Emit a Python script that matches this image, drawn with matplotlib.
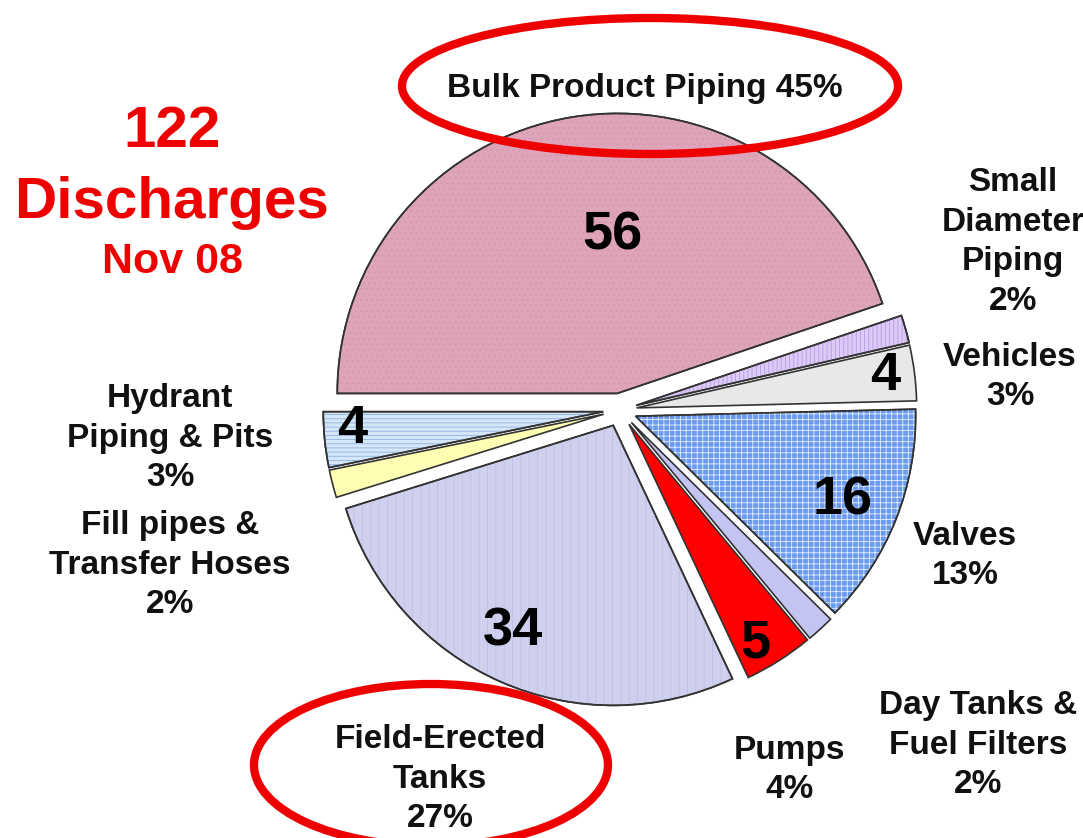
import numpy as np
import matplotlib.pyplot as plt
from matplotlib.patches import Wedge, Ellipse

plt.rcParams['font.family'] = ['Liberation Sans', 'DejaVu Sans']
plt.rcParams['hatch.linewidth'] = 0.6

categories = ["Bulk Product Piping", "Small Diameter Piping", "Vehicles", "Valves",
              "Day Tanks & Fuel Filters", "Pumps", "Field-Erected Tanks",
              "Fill pipes & Transfer Hoses", "Hydrant Piping & Pits"]
counts = [56, 2, 4, 16, 2, 5, 34, 2, 4]
percents = ["45%", "2%", "3%", "13%", "2%", "4%", "27%", "2%", "3%"]
show_count = [True, False, True, True, False, True, True, False, True]

colors = ["#DEA4B9", "#DCCBF6", "#E8E8E8", "#6A9BEF", "#C4C4F2",
          "#FF0000", "#CFCFEE", "#FFFFB4", "#D4E6F8"]
hatches = ["...", "||||", None, "+++", None, None, "||", None, "----"]
hatch_colors = ["#D497AD", "#B79BE8", None, "#E6EEFF", None, None, "#C0C0E8", None, "#8FB3DD"]

# pixel geometry of the reference
S = 280.0
CX, CY = 620.0, 410.0


def P(x, y):
    return (x - CX) / S, (CY - y) / S


fig = plt.figure(figsize=(10.83, 8.38), dpi=100)
ax = fig.add_axes([0, 0, 1, 1])

wedges, _ = ax.pie(counts, explode=[0.06] * len(counts), startangle=180, counterclock=False,
                   colors=colors, radius=1.0,
                   wedgeprops=dict(edgecolor="#333333", linewidth=1.2))

for w, h, hc in zip(wedges, hatches, hatch_colors):
    if h is None:
        continue
    hw = Wedge(w.center, w.r, w.theta1, w.theta2, facecolor="none",
               edgecolor=hc, linewidth=0, hatch=h, zorder=w.get_zorder() + 0.1)
    ax.add_patch(hw)
    ow = Wedge(w.center, w.r, w.theta1, w.theta2, facecolor="none",
               edgecolor="#333333", linewidth=1.2, zorder=w.get_zorder() + 0.2)
    ax.add_patch(ow)

# counts inside the slices
count_r = [0.565, 0, 0.895, 0.80, 0, 0.905, 0.82, 0, 0.90]
count_da = [-7.6, 0, 0.0, -0.5, 0, -2.5, -2.2, 0, -1.8]
for w, c, show, r, da in zip(wedges, counts, show_count, count_r, count_da):
    if not show:
        continue
    a = np.deg2rad((w.theta1 + w.theta2) / 2 + da)
    x = w.center[0] + r * np.cos(a)
    y = w.center[1] + r * np.sin(a)
    ax.text(x, y, str(c), ha="center", va="center", fontsize=39, fontweight="bold",
            color="black", zorder=10)

# outside labels
lbl = dict(ha="center", va="center", fontsize=24, fontweight="bold", color="#111111",
           linespacing=1.35, zorder=10)
ax.text(*P(645, 88), "Bulk Product Piping 45%", **lbl)
ax.text(*P(1013, 242), "Small\nDiameter\nPiping\n2%", **lbl)
ax.text(*P(1010, 377), "Vehicles\n3%", **lbl)
ax.text(*P(965, 556), "Valves\n13%", **lbl)
ax.text(*P(978, 745), "Day Tanks &\nFuel Filters\n2%", **lbl)
ax.text(*P(790, 770), "Pumps\n4%", **lbl)
ax.text(*P(440, 779), "Field-Erected\nTanks\n27%", **lbl)
ax.text(*P(170, 438), "Hydrant\nPiping & Pits\n3%", **lbl)
ax.text(*P(170, 565), "Fill pipes &\nTransfer Hoses\n2%", **lbl)

# title block
red = "#EE0000"
ax.text(*P(172, 132), "122", ha="center", va="center", fontsize=42, fontweight="bold", color=red)
ax.text(*P(172, 203), "Discharges", ha="center", va="center", fontsize=42, fontweight="bold", color=red)
ax.text(*P(172, 262), "Nov 08", ha="center", va="center", fontsize=31, fontweight="bold", color=red)

# red highlight ellipses
ax.add_patch(Ellipse(P(650, 86), 496 / S, 136 / S, facecolor="none", edgecolor="#EE0000",
                     linewidth=6, zorder=11))
ax.add_patch(Ellipse(P(431, 765), 354 / S, 162 / S, facecolor="none", edgecolor="#EE0000",
                     linewidth=6, zorder=11))

ax.set_xlim(-CX / S, (1083 - CX) / S)
ax.set_ylim(-(838 - CY) / S, CY / S)
ax.set_aspect("equal")
ax.axis("off")

fig.savefig("out.png", dpi=100, facecolor="white")
